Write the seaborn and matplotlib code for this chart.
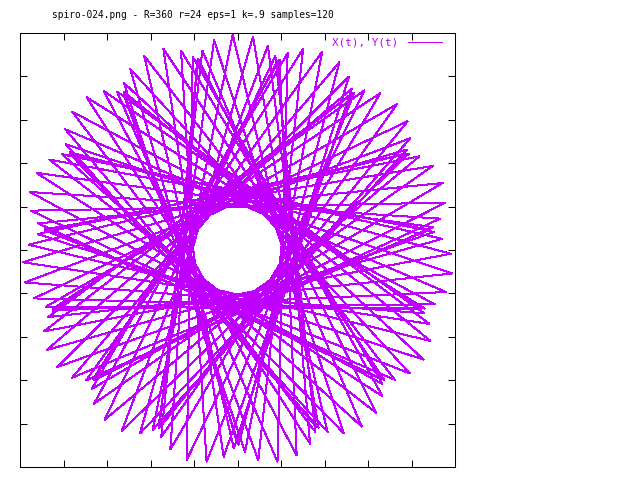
import matplotlib
matplotlib.use("Agg")
import matplotlib.pyplot as plt
import numpy as np
import seaborn as sns

title = "spiro-024.png - R=360 r=24 eps=1 k=.9 samples=120"
series_label = "X(t), Y(t)"

# curve vertices, in drawing order (120 samples)
x_vals = [-9, -159, 318, -403, 360, -214, 39, 123, -271, 380, -389, 272, -84, -95, 238,
          -346, 391, -323, 147, 57, -217, 321, -375, 349, -213, 2, 191, -310, 360, -353,
          260, -74, -143, 299, -360, 351, -283, 136, 75, -269, 366, -362, 295, -175, -7,
          214, -358, 384, -315, 199, -44, -148, 324, -399, 350, -226, 75, 94, -270, 390,
          -387, 269, -106, -58, 219, -355, 403, -322, 152, 29, -183, 314, -392, 362, -213,
          14, 159, -284, 367, -377, 272, -76, -126, 268, -347, 370, -310, 146, 71, -249,
          341, -362, 323, -201, -1, 209, -338, 368, -329, 233, -66, -147, 319, -382, 345,
          -251, 111, 79, -273, 385, -374, 275, -139, -26, 213, -363, 400, -315, 169, -9]
y_vals = [405, -338, 189, -23, -139, 293, -395, 378, -243, 59, 109, -252, 363, -394, 300,
          -114, -79, 227, -332, 384, -340, 181, 30, -206, 314, -366, 353, -240, 38, 170,
          -306, 359, -351, 274, -107, -110, 287, -364, 355, -289, 158, 39, -244, 365, -373,
          303, -188, 21, 181, -344, 394, -331, 210, -61, -119, 298, -398, 370, -245, 89,
          74, -243, 375, -398, 296, -126, -44, 199, -334, 401, -345, 181, 10, -171, 297,
          -380, 373, -245, 43, 145, -275, 355, -375, 295, -111, -102, 260, -342, 365, -319,
          176, 37, -232, 340, -363, 326, -220, 34, 180, -332, 375, -335, 242, -91, -112,
          299, -386, 358, -261, 126, 50, -244, 378, -389, 293, -153, -7, 184, -342, 405]

lim = 408
color = "#c000ff"
mono = "DejaVu Sans Mono"

fig = plt.figure(figsize=(6.4, 4.8), dpi=100)
ax = fig.add_axes([20/640, 13/480, 435/640, 434/480])

sns.lineplot(x=x_vals, y=y_vals, sort=False, estimator=None, color=color,
             lw=0.72, antialiased=False, label=series_label, ax=ax)

ax.set_xlim(-lim, lim)
ax.set_ylim(-lim, lim)
ticks = np.arange(-4, 5) * lim / 5
ax.set_xticks(ticks)
ax.set_yticks(ticks)
for s in ax.spines.values():
    s.set_linewidth(0.75)
ax.tick_params(direction="in", length=4.7, width=0.75, top=True, right=True,
               labelbottom=False, labelleft=False)

fig.text(193/640, 1 - 15.5/480, title, ha="center", va="center",
         family=mono, fontsize=6.85)
ax.legend(loc="upper right", bbox_to_anchor=(442/640, 1 - 37.5/480),
          bbox_transform=fig.transFigure, frameon=False, markerfirst=False,
          borderpad=0, borderaxespad=0, handlelength=3.08, handletextpad=0.9,
          labelcolor=color, prop={"family": mono, "size": 7.95})

fig.savefig("out.png", dpi=100)
